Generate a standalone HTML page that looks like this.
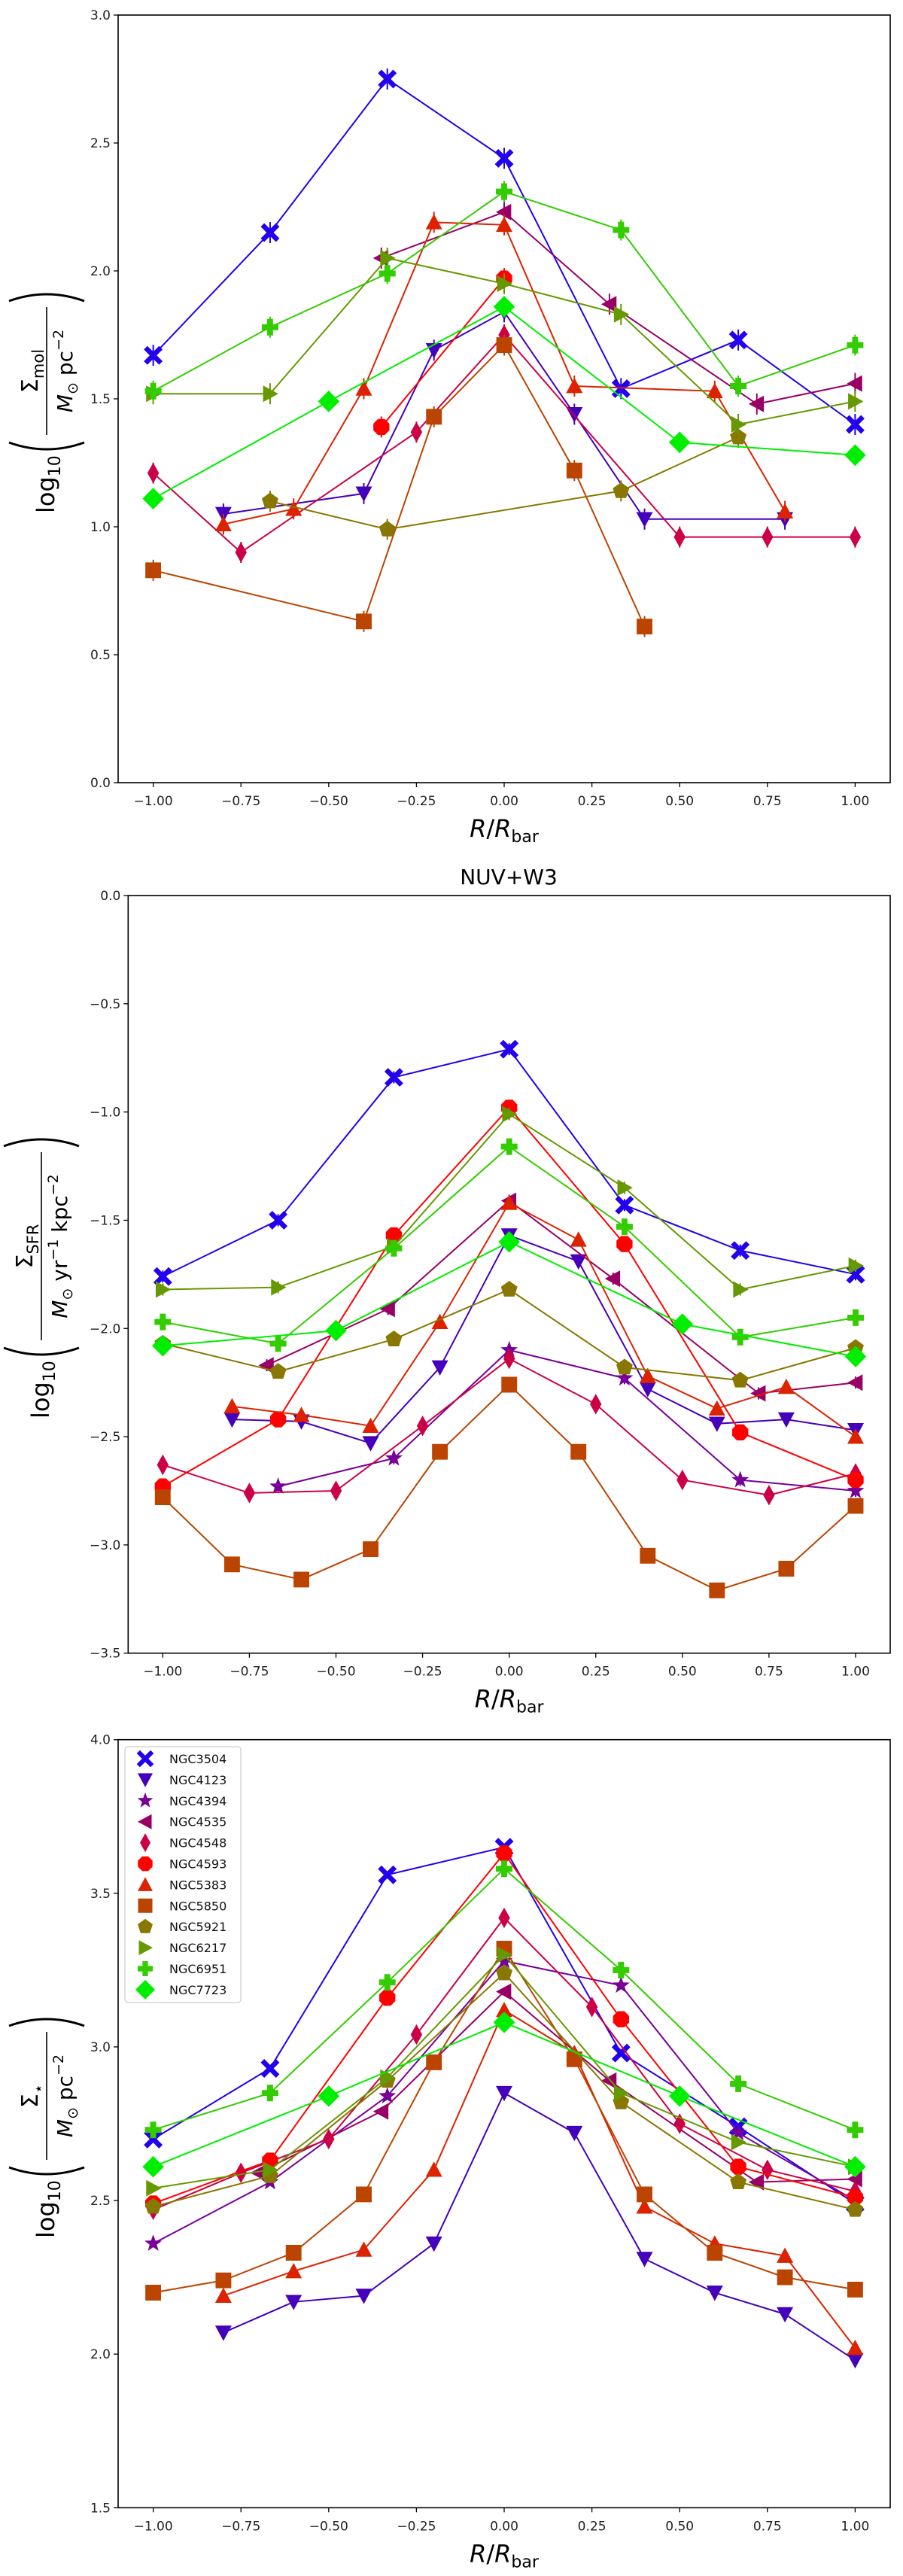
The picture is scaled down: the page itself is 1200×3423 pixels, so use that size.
<!DOCTYPE html>
<html><head><meta charset="utf-8"><style>
html,body{margin:0;padding:0;background:#fff;}
svg{display:block;font-family:"DejaVu Sans","Liberation Sans",sans-serif;}
</style></head><body>
<svg id="fig" width="1200" height="3423" viewBox="0 0 1200 3423" xmlns="http://www.w3.org/2000/svg"></svg>
<script>
// ---- shared radius grids ----
const r7 = [-1,-0.667,-0.333,0,0.333,0.667,1];
const r10 = [-0.8,-0.6,-0.4,-0.2,0,0.2,0.4,0.6,0.8,1];
const r11 = [-1,-0.8,-0.6,-0.4,-0.2,0,0.2,0.4,0.6,0.8,1];
const r9 = [-1,-0.75,-0.5,-0.25,0,0.25,0.5,0.75,1];
const r5 = [-1,-0.5,0,0.5,1];
const r4535 = [-0.7,-0.35,0,0.3,0.72,1];
const galaxies = ["NGC3504","NGC4123","NGC4394","NGC4535","NGC4548","NGC4593","NGC5383","NGC5850","NGC5921","NGC6217","NGC6951","NGC7723"];
const colors = ["#2200ee","#4400bb","#770099","#990066","#cc0044","#ff0000","#dd2200","#bb4400","#887700","#669900","#33cc00","#00ee00"];
const markers = ["X","v","*","<","d","8","^","s","p",">","P","D"];

// ---- panel 1: molecular gas ----
const mol_r_3504 = r7, mol_v_3504 = [1.67,2.15,2.75,2.44,1.54,1.73,1.40];
const mol_r_4123 = [-0.8,-0.4,-0.2,0,0.2,0.4,0.8], mol_v_4123 = [1.05,1.13,1.69,1.84,1.44,1.03,1.03];
const mol_r_4394 = [], mol_v_4394 = [];
const mol_r_4535 = [-0.35,0,0.3,0.72,1], mol_v_4535 = [2.05,2.23,1.87,1.48,1.56];
const mol_r_4548 = [-1,-0.75,-0.25,0,0.5,0.75,1], mol_v_4548 = [1.21,0.90,1.37,1.75,0.96,0.96,0.96];
const mol_r_4593 = [-0.35,0], mol_v_4593 = [1.39,1.97];
const mol_r_5383 = [-0.8,-0.6,-0.4,-0.2,0,0.2,0.6,0.8], mol_v_5383 = [1.01,1.07,1.54,2.19,2.18,1.55,1.53,1.06];
const mol_r_5850 = [-1,-0.4,-0.2,0,0.2,0.4], mol_v_5850 = [0.83,0.63,1.43,1.71,1.22,0.61];
const mol_r_5921 = [-0.667,-0.333,0.333,0.667], mol_v_5921 = [1.10,0.99,1.14,1.35];
const mol_r_6217 = r7, mol_v_6217 = [1.52,1.52,2.05,1.95,1.83,1.40,1.49];
const mol_r_6951 = r7, mol_v_6951 = [1.53,1.78,1.99,2.31,2.16,1.55,1.71];
const mol_r_7723 = r5, mol_v_7723 = [1.11,1.49,1.86,1.33,1.28];

// ---- panel 2: SFR ----
const sfr_r_3504 = r7, sfr_v_3504 = [-1.76,-1.50,-0.84,-0.71,-1.43,-1.64,-1.75];
const sfr_r_4123 = r10, sfr_v_4123 = [-2.42,-2.43,-2.53,-2.18,-1.57,-1.69,-2.28,-2.44,-2.42,-2.47];
const sfr_r_4394 = r7.slice(1), sfr_v_4394 = [-2.73,-2.60,-2.10,-2.23,-2.70,-2.75];
const sfr_r_4535 = r4535, sfr_v_4535 = [-2.17,-1.91,-1.41,-1.77,-2.30,-2.25];
const sfr_r_4548 = r9, sfr_v_4548 = [-2.63,-2.76,-2.75,-2.45,-2.14,-2.35,-2.70,-2.77,-2.67];
const sfr_r_4593 = r7, sfr_v_4593 = [-2.73,-2.42,-1.57,-0.98,-1.61,-2.48,-2.70];
const sfr_r_5383 = r10, sfr_v_5383 = [-2.36,-2.40,-2.45,-1.97,-1.42,-1.59,-2.22,-2.37,-2.27,-2.50];
const sfr_r_5850 = r11, sfr_v_5850 = [-2.78,-3.09,-3.16,-3.02,-2.57,-2.26,-2.57,-3.05,-3.21,-3.11,-2.82];
const sfr_r_5921 = r7, sfr_v_5921 = [-2.07,-2.20,-2.05,-1.82,-2.18,-2.24,-2.09];
const sfr_r_6217 = r7, sfr_v_6217 = [-1.82,-1.81,-1.62,-1.01,-1.35,-1.82,-1.71];
const sfr_r_6951 = r7, sfr_v_6951 = [-1.97,-2.07,-1.63,-1.16,-1.53,-2.04,-1.95];
const sfr_r_7723 = r5, sfr_v_7723 = [-2.08,-2.01,-1.60,-1.98,-2.13];

// ---- panel 3: stellar mass ----
const st_r_3504 = r7, st_v_3504 = [2.70,2.93,3.56,3.65,2.98,2.74,2.49];
const st_r_4123 = r10, st_v_4123 = [2.07,2.17,2.19,2.36,2.85,2.72,2.31,2.20,2.13,1.98];
const st_r_4394 = r7, st_v_4394 = [2.36,2.56,2.84,3.28,3.20,2.72,2.50];
const st_r_4535 = r4535, st_v_4535 = [2.59,2.79,3.18,2.89,2.56,2.57];
const st_r_4548 = r9, st_v_4548 = [2.47,2.59,2.70,3.04,3.42,3.13,2.75,2.60,2.53];
const st_r_4593 = r7, st_v_4593 = [2.49,2.63,3.16,3.63,3.09,2.61,2.51];
const st_r_5383 = r10, st_v_5383 = [2.19,2.27,2.34,2.60,3.12,2.98,2.48,2.36,2.32,2.02];
const st_r_5850 = r11, st_v_5850 = [2.20,2.24,2.33,2.52,2.95,3.32,2.96,2.52,2.33,2.25,2.21];
const st_r_5921 = r7, st_v_5921 = [2.48,2.58,2.89,3.24,2.82,2.56,2.47];
const st_r_6217 = r7, st_v_6217 = [2.54,2.60,2.90,3.30,2.85,2.69,2.61];
const st_r_6951 = r7, st_v_6951 = [2.73,2.85,3.21,3.58,3.25,2.88,2.73];
const st_r_7723 = r5, st_v_7723 = [2.61,2.84,3.08,2.84,2.61];

const yticks1 = [0.0,0.5,1.0,1.5,2.0,2.5,3.0];
const yticks2 = [0.0,-0.5,-1.0,-1.5,-2.0,-2.5,-3.0,-3.5];
const yticks3 = [1.5,2.0,2.5,3.0,3.5,4.0];
const xticks = [-1.0,-0.75,-0.5,-0.25,0,0.25,0.5,0.75,1.0];

const NS = "http://www.w3.org/2000/svg";
const fig = document.getElementById('fig');
function mk(tag, attrs, parent){const e=document.createElementNS(NS,tag);for(const k in attrs)e.setAttribute(k,attrs[k]);(parent||fig).appendChild(e);return e;}
function fmt(v,d){const s=Math.abs(v).toFixed(d);return (v<0?"\u2212":"")+s;}

function markerPath(m,s){
  const P=(pts)=>"M"+pts.map(p=>p[0].toFixed(2)+","+p[1].toFixed(2)).join("L")+"Z";
  const poly=(n,r,rot)=>{const a=[];for(let i=0;i<n;i++){const t=rot+i*2*Math.PI/n;a.push([r*Math.cos(t),r*Math.sin(t)]);}return a;};
  const plus=(w,L)=>[[-w,-L],[w,-L],[w,-w],[L,-w],[L,w],[w,w],[w,L],[-w,L],[-w,w],[-L,w],[-L,-w],[-w,-w]];
  switch(m){
    case "X":{const c=Math.SQRT1_2;return P(plus(s*0.3,s*1.3).map(p=>[(p[0]-p[1])*c,(p[0]+p[1])*c]));}
    case "P":return P(plus(s*0.36,s));
    case "v":return P([[-s,-s*0.85],[s,-s*0.85],[0,s*1.0]]);
    case "^":return P([[-s,s*0.85],[s,s*0.85],[0,-s*1.0]]);
    case "<":return P([[s*0.85,-s],[s*0.85,s],[-s*1.0,0]]);
    case ">":return P([[-s*0.85,-s],[-s*0.85,s],[s*1.0,0]]);
    case "d":return P([[0,-s*1.25],[s*0.7,0],[0,s*1.25],[-s*0.7,0]]);
    case "D":return P([[0,-s*1.3],[s*1.3,0],[0,s*1.3],[-s*1.3,0]]);
    case "s":return P([[-s*0.95,-s*0.95],[s*0.95,-s*0.95],[s*0.95,s*0.95],[-s*0.95,s*0.95]]);
    case "8":return P(poly(8,s*1.05,Math.PI/8));
    case "p":return P(poly(5,s*1.05,-Math.PI/2));
    case "*":{const a=[];for(let i=0;i<10;i++){const r=i%2?s*0.45:s*1.1;const t=-Math.PI/2+i*Math.PI/5;a.push([r*Math.cos(t),r*Math.sin(t)]);}return P(a);}
  }
}

function drawPanel(id, geo, rs, vs, yticks, ydec){
  const g = mk('g',{});
  
  
  const X=r=>geo.L+(r-geo.xmin)/(geo.xmax-geo.xmin)*(geo.R-geo.L);
  const Y=v=>geo.B-(v-geo.ymin)/(geo.ymax-geo.ymin)*(geo.B-geo.T);
  for(let i=0;i<galaxies.length;i++){
    const r=rs[i], v=vs[i]; if(!r.length) continue;
    const sg=mk('g',{},g);
    
    
    const pts=r.map((x,k)=>X(x).toFixed(1)+","+Y(v[k]).toFixed(1)).join(" ");
    const ln=mk('polyline',{points:pts,fill:'none',stroke:colors[i],'stroke-width':2},sg);
    
    
    r.forEach((x,k)=>{
      const cx=X(x), cy=Y(v[k]);
      const eb=mk('line',{x1:cx,x2:cx,y1:cy-geo.eb,y2:cy+geo.eb,stroke:colors[i],'stroke-width':2},sg);
      
      
      const p=mk('path',{d:markerPath(markers[i],11),transform:`translate(${cx.toFixed(1)},${cy.toFixed(1)})`,fill:colors[i]},sg);
      
      
    });
  }
  const fr=mk('rect',{x:geo.L,y:geo.T,width:geo.R-geo.L,height:geo.B-geo.T,fill:'none',stroke:'#000','stroke-width':1.6},g);
  
  
  xticks.forEach(t=>{
    const x=X(t);
    mk('line',{x1:x,x2:x,y1:geo.B,y2:geo.B+6,stroke:'#000','stroke-width':1.3},g);
    const tx=mk('text',{x:x,y:geo.B+30,'font-size':17,'text-anchor':'middle',fill:'#222'},g);
    tx.textContent=fmt(t,2);
    
    
  });
  yticks.forEach(t=>{
    const y=Y(t);
    mk('line',{x1:geo.L-6,x2:geo.L,y1:y,y2:y,stroke:'#000','stroke-width':1.3},g);
    const tx=mk('text',{x:geo.L-10,y:y+6,'font-size':17,'text-anchor':'end',fill:'#222'},g);
    tx.textContent=fmt(t,ydec);
    
    
  });
  const xl=mk('text',{x:(geo.L+geo.R)/2,y:geo.B+72,'font-size':32,'text-anchor':'middle',fill:'#000'},g);
  xl.innerHTML='<tspan font-style="italic">R</tspan>/<tspan font-style="italic">R</tspan><tspan font-size="22" dy="7">bar</tspan>';
  
  
  return g;
}

function ylabel(id, cx, cy, numSub, denomHTML, denW){
  const g=mk('g',{transform:`translate(${cx},${cy}) rotate(-90)`});
  
  
  const lw=Math.max(denW,90);
  const total=50+24+30+lw+30;
  let x=-total/2;
  const t1=mk('text',{x:x,y:10,'font-size':32},g); t1.innerHTML='log<tspan font-size="22" dy="8">10</tspan>';
  x+=76;
  mk('path',{d:`M${x+18},-50 Q${x},0 ${x+18},50`,fill:'none',stroke:'#000','stroke-width':3},g);
  x+=28;
  const num=mk('text',{x:x+lw/2,y:-12,'font-size':30,'text-anchor':'middle'},g);
  num.innerHTML='Σ<tspan font-size="21" dy="8">'+numSub+'</tspan>';
  mk('line',{x1:x,x2:x+lw,y1:0,y2:0,stroke:'#000','stroke-width':1.6},g);
  const den=mk('text',{x:x+lw/2,y:34,'font-size':28,'text-anchor':'middle'},g);
  den.innerHTML=denomHTML;
  x+=lw+8;
  mk('path',{d:`M${x},-50 Q${x+18},0 ${x},50`,fill:'none',stroke:'#000','stroke-width':3},g);
}

const g1={L:157,R:1183,T:20,B:1040,xmin:-1.1,xmax:1.1,ymin:0,ymax:3,eb:14};
drawPanel('molecular',g1,
  [mol_r_3504,mol_r_4123,mol_r_4394,mol_r_4535,mol_r_4548,mol_r_4593,mol_r_5383,mol_r_5850,mol_r_5921,mol_r_6217,mol_r_6951,mol_r_7723],
  [mol_v_3504,mol_v_4123,mol_v_4394,mol_v_4535,mol_v_4548,mol_v_4593,mol_v_5383,mol_v_5850,mol_v_5921,mol_v_6217,mol_v_6951,mol_v_7723],
  yticks1,1);
const g2={L:170.3,R:1183,T:1190,B:2196.7,xmin:-1.1,xmax:1.1,ymin:-3.5,ymax:0,eb:8};
drawPanel('sfr',g2,
  [sfr_r_3504,sfr_r_4123,sfr_r_4394,sfr_r_4535,sfr_r_4548,sfr_r_4593,sfr_r_5383,sfr_r_5850,sfr_r_5921,sfr_r_6217,sfr_r_6951,sfr_r_7723],
  [sfr_v_3504,sfr_v_4123,sfr_v_4394,sfr_v_4535,sfr_v_4548,sfr_v_4593,sfr_v_5383,sfr_v_5850,sfr_v_5921,sfr_v_6217,sfr_v_6951,sfr_v_7723],
  yticks2,1);
const g3={L:157,R:1183,T:2311.7,B:3332.3,xmin:-1.1,xmax:1.1,ymin:1.5,ymax:4.0,eb:4};
drawPanel('stellar',g3,
  [st_r_3504,st_r_4123,st_r_4394,st_r_4535,st_r_4548,st_r_4593,st_r_5383,st_r_5850,st_r_5921,st_r_6217,st_r_6951,st_r_7723],
  [st_v_3504,st_v_4123,st_v_4394,st_v_4535,st_v_4548,st_v_4593,st_v_5383,st_v_5850,st_v_5921,st_v_6217,st_v_6951,st_v_7723],
  yticks3,1);

const title=mk('text',{x:676,y:1175,'font-size':28,'text-anchor':'middle'});
title.textContent='NUV+W3';



ylabel('molecular',62,530,'mol','<tspan font-style="italic">M</tspan><tspan font-size="19" dy="7">⊙</tspan><tspan dy="-7"> pc</tspan><tspan font-size="19" dy="-12">−2</tspan>',170);
ylabel('sfr',55,1693,'SFR','<tspan font-style="italic">M</tspan><tspan font-size="19" dy="7">⊙</tspan><tspan dy="-7"> yr</tspan><tspan font-size="19" dy="-12">−1</tspan><tspan dy="12"> kpc</tspan><tspan font-size="19" dy="-12">−2</tspan>',250);
ylabel('stellar',62,2822,'⋆','<tspan font-style="italic">M</tspan><tspan font-size="19" dy="7">⊙</tspan><tspan dy="-7"> pc</tspan><tspan font-size="19" dy="-12">−2</tspan>',170);

const lg=mk('g',{});


mk('rect',{x:166,y:2321,width:154,height:340,rx:4,fill:'#fff',stroke:'#ccc','stroke-width':1.2},lg);
galaxies.forEach((n,i)=>{
  const y=2337+i*27.9;
  const e=mk('g',{},lg);
  
  
  mk('path',{d:markerPath(markers[i],10),transform:`translate(193,${y})`,fill:colors[i]},e);
  const t=mk('text',{x:225,y:y+6,'font-size':16,fill:'#111'},e);
  t.textContent=n;
});
</script>
</body></html>
